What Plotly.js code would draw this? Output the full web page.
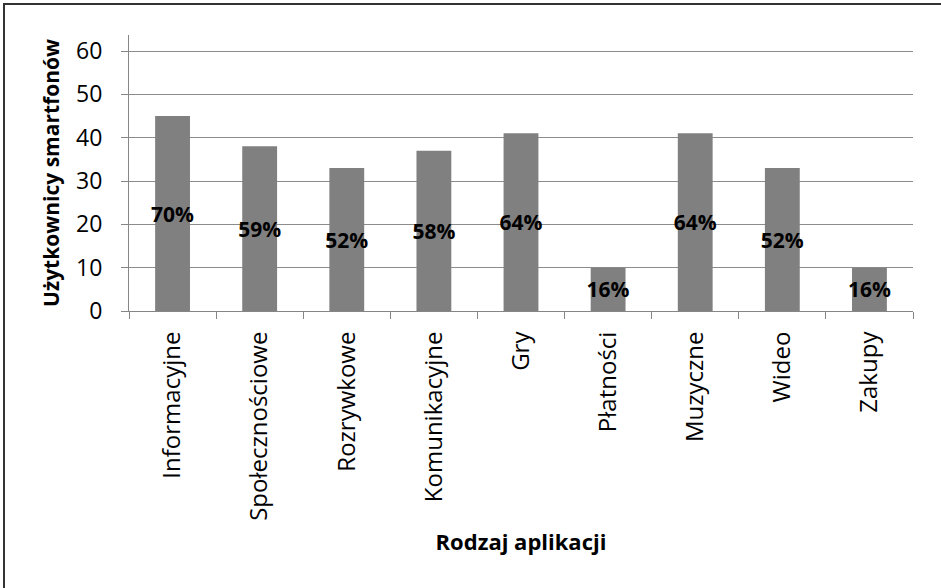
<!DOCTYPE html>
<html>
<head>
<meta charset="utf-8">
<script src="https://cdn.plot.ly/plotly-3.0.1.min.js"></script>
<style>
  html, body { margin: 0; padding: 0; background: #fff; }
  #wrap { position: relative; width: 941px; height: 588px; }
  #chart { position: absolute; left: 0; top: 0; width: 941px; height: 588px; }
  #frame { position: absolute; left: 3px; top: 3px; width: 960px; height: 600px;
           border-left: 2px solid #333; border-top: 2px solid #333; pointer-events: none; }
</style>
</head>
<body>
<div id="wrap">
  <div id="chart"></div>
  <div id="frame"></div>
</div>
<script>
const categories = ['Informacyjne', 'Społecznościowe', 'Rozrywkowe', 'Komunikacyjne', 'Gry', 'Płatności', 'Muzyczne', 'Wideo', 'Zakupy'];
const users = [45, 38, 33, 37, 41, 10, 41, 33, 10];
const percentLabels = ['70%', '59%', '52%', '58%', '64%', '16%', '64%', '52%', '16%'];
const yTickValues = [0, 10, 20, 30, 40, 50, 60];

const trace = {
  type: 'bar',
  x: categories,
  y: users,
  text: percentLabels,
  textposition: 'inside',
  insidetextanchor: 'middle',
  textangle: 0,
  constraintext: 'none',
  cliponaxis: false,
  textfont: { family: 'Open Sans, sans-serif', size: 21, color: '#000', weight: 'bold' },
  marker: { color: '#808080', line: { width: 0 } },
  hoverinfo: 'none'
};

const layout = {
  width: 941,
  height: 588,
  margin: { l: 129, r: 28, t: 35, b: 277 },
  paper_bgcolor: '#ffffff',
  plot_bgcolor: '#ffffff',
  showlegend: false,
  bargap: 0.6,
  font: { family: 'Open Sans, sans-serif', color: '#000' },
  xaxis: {
    type: 'category',
    tickson: 'boundaries',
    ticks: 'outside',
    ticklen: 7,
    tickcolor: '#868686',
    tickwidth: 1,
    showline: true,
    linecolor: '#868686',
    linewidth: 1,
    showgrid: false,
    tickangle: -90,
    ticklabelstandoff: 10,
    tickfont: { family: 'Open Sans, sans-serif', size: 24, color: '#000' },
    title: {
      text: 'Rodzaj aplikacji',
      font: { family: 'Open Sans, sans-serif', size: 22, color: '#000', weight: 'bold' },
      standoff: 14
    },
    automargin: false
  },
  yaxis: {
    range: [0, 63.7],
    tickvals: yTickValues,
    ticktext: yTickValues.map(String),
    ticks: 'outside',
    ticklen: 7,
    tickcolor: '#868686',
    tickwidth: 1,
    showline: true,
    linecolor: '#868686',
    linewidth: 1,
    showgrid: true,
    gridcolor: '#8c8c8c',
    gridwidth: 1,
    zeroline: false,
    ticklabelstandoff: 14,
    tickfont: { family: 'Open Sans, sans-serif', size: 23, color: '#000' },
    title: {
      text: 'Użytkownicy smartfonów',
      font: { family: 'Open Sans, sans-serif', size: 21, color: '#000', weight: 'bold' },
      standoff: 10
    },
    automargin: false
  }
};

Plotly.newPlot('chart', [trace], layout, { staticPlot: true, displayModeBar: false });
</script>
</body>
</html>
